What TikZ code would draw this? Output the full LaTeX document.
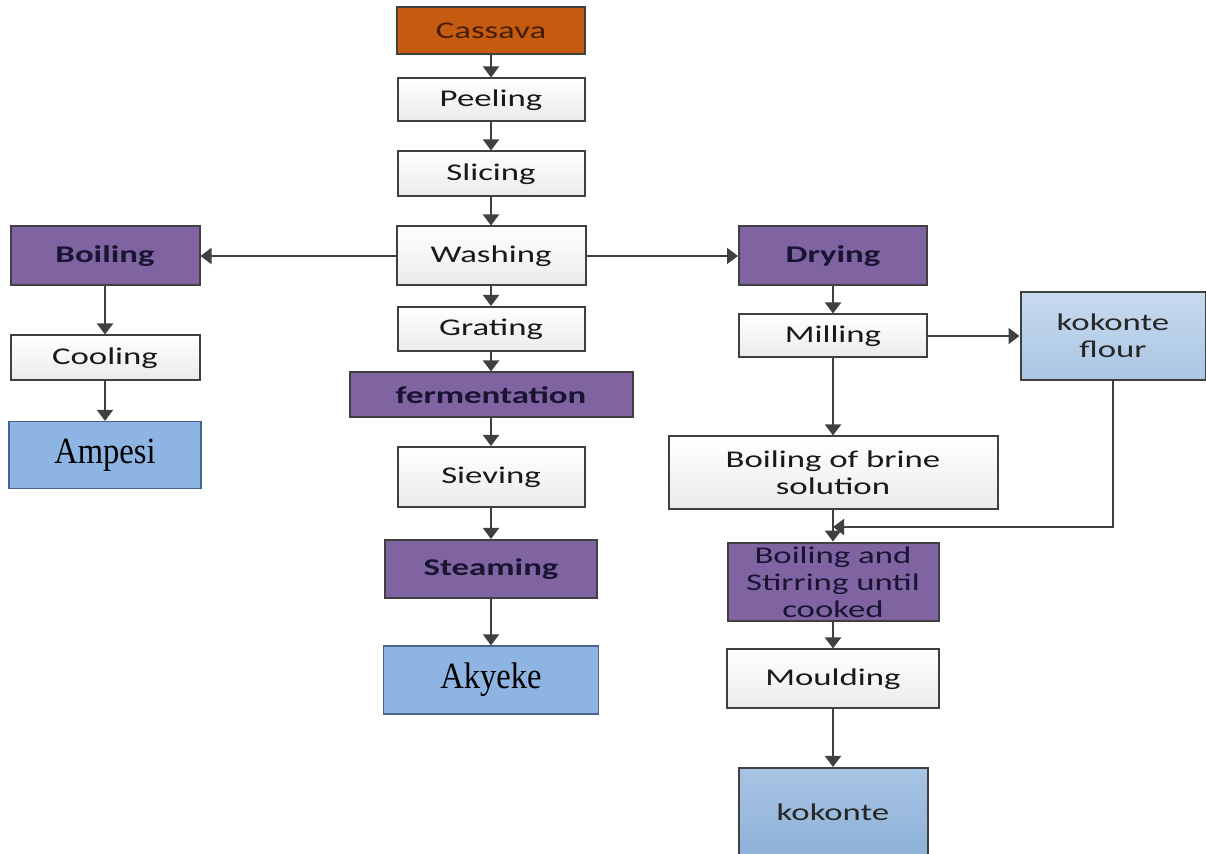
\documentclass[tikz,border=0pt]{standalone}
\usepackage{fontspec}
\usepackage{tikz}
\usetikzlibrary{arrows.meta, positioning}
\newfontfamily\boxfont{Carlito}[FakeStretch=1.45]
\newfontfamily\prodfont{Liberation Serif}[FakeStretch=0.88]
\definecolor{cassavaorange}{RGB}{197, 90, 17}
\definecolor{cassavaink}{RGB}{70, 30, 5}
\definecolor{stepviolet}{RGB}{128, 100, 162}
\definecolor{stepink}{RGB}{25, 20, 50}
\definecolor{prodblue}{RGB}{141, 180, 226}
\definecolor{prodline}{RGB}{70, 100, 140}
\definecolor{flourtop}{RGB}{200, 218, 238}
\definecolor{flourbot}{RGB}{170, 198, 228}
\definecolor{kokontetop}{RGB}{168, 196, 228}
\definecolor{kokontebot}{RGB}{142, 177, 216}
\definecolor{edgegray}{RGB}{64, 64, 64}
\tikzset{
  box/.style={draw=edgegray, line width=1pt, align=center, inner sep=2pt,
              text=black!90, font=\boxfont\fontsize{12}{13.5}\selectfont},
  procbox/.style={box, top color=white, bottom color=black!8},
  keybox/.style={box, fill=stepviolet, text=stepink,
                 font=\boxfont\bfseries\fontsize{12}{13.5}\selectfont},
  cookbox/.style={box, fill=stepviolet, text=stepink},
  startbox/.style={box, fill=cassavaorange, text=cassavaink},
  prodbox/.style={box, draw=prodline, line width=0.6pt, fill=prodblue, text=black,
                  font=\prodfont\fontsize{18.5}{21}\selectfont},
  flourbox/.style={box, top color=flourtop, bottom color=flourbot, text=black!85},
  endbox/.style={box, top color=kokontetop, bottom color=kokontebot, text=black!85},
  arr/.style={draw=edgegray, line width=1pt, -{Triangle[length=5.5pt, width=8pt]}}
}
\begin{document}
\begin{tikzpicture}[x=0.5pt, y=-0.5pt]
\useasboundingbox (0,0) rectangle (1206,854);

% centre column
\node[startbox, minimum width=94pt, minimum height=23.5pt] (cassava) at (491,31) {Cassava};
\node[procbox, minimum width=93.5pt, minimum height=21.5pt] (peeling) at (491,100) {Peeling};
\node[procbox, minimum width=93.5pt, minimum height=22.5pt] (slicing) at (491,174) {Slicing};
\node[procbox, minimum width=94.5pt, minimum height=29.5pt] (washing) at (491,256) {Washing};
\node[procbox, minimum width=93.5pt, minimum height=22pt] (grating) at (491,329) {Grating};
\node[keybox, minimum width=141.5pt, minimum height=22.5pt] (ferment) at (491,395) {fermentation};
\node[procbox, minimum width=93.5pt, minimum height=30pt] (sieving) at (491,477) {Sieving};
\node[keybox, minimum width=106pt, minimum height=29pt] (steaming) at (491,569) {Steaming};
\node[prodbox, minimum width=107.5pt, minimum height=34pt] (akyeke) at (491,680) {Akyeke};

% left column
\node[keybox, minimum width=94.5pt, minimum height=29.5pt] (boiling) at (105,256) {Boiling};
\node[procbox, minimum width=94.5pt, minimum height=22.5pt] (cooling) at (105,358) {Cooling};
\node[prodbox, minimum width=96pt, minimum height=33.5pt] (ampesi) at (105,455) {Ampesi};

% right column
\node[keybox, minimum width=94pt, minimum height=29.5pt] (drying) at (833,256) {Drying};
\node[procbox, minimum width=94pt, minimum height=21.5pt] (milling) at (833,336) {Milling};
\node[flourbox, minimum width=92.5pt, minimum height=44pt] (kflour) at (1113,336) {kokonte\\flour};
\node[procbox, minimum width=164.5pt, minimum height=36.5pt] (brine) at (833,473) {Boiling of brine\\solution};
\node[cookbox, minimum width=105.5pt, minimum height=35.5pt] (stirring) at (833,582) {Boiling and\\Stirring until\\cooked};
\node[procbox, minimum width=106pt, minimum height=29.5pt] (moulding) at (833,679) {Moulding};
\node[endbox, minimum width=94.5pt, minimum height=44pt] (kokonte) at (833,812) {kokonte};
\coordinate (merge) at (833,527);

% connectors
\draw[arr] (cassava) -- (peeling);
\draw[arr] (peeling) -- (slicing);
\draw[arr] (slicing) -- (washing);
\draw[arr] (washing) -- (grating);
\draw[arr] (grating) -- (ferment);
\draw[arr] (ferment) -- (sieving);
\draw[arr] (sieving) -- (steaming);
\draw[arr] (steaming) -- (akyeke);
\draw[arr] (washing) -- (boiling);
\draw[arr] (boiling) -- (cooling);
\draw[arr] (cooling) -- (ampesi);
\draw[arr] (washing) -- (drying);
\draw[arr] (drying) -- (milling);
\draw[arr] (milling) -- (kflour);
\draw[arr] (milling) -- (brine);
\draw[arr] (brine) -- (stirring);
\draw[arr] (kflour) |- (merge);
\draw[arr] (stirring) -- (moulding);
\draw[arr] (moulding) -- (kokonte);
\end{tikzpicture}
\end{document}
